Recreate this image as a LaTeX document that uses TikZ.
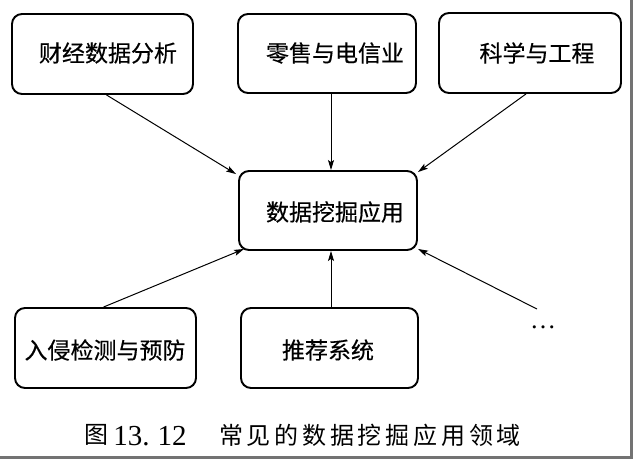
\documentclass[tikz,border=0pt]{standalone}
\usepackage{fontspec}
\setmainfont{Liberation Serif}
\newfontfamily\cjk{Noto Sans CJK SC}
\newfontfamily\cjkb[FakeBold=0.4]{Noto Sans CJK SC}
\usetikzlibrary{arrows.meta}
\newcommand\capgap{\hspace{3.8pt}}
\begin{document}
\begin{tikzpicture}[x=1pt,y=-1pt,
  box/.style={draw, line width=1.9pt, rounded corners=10pt, inner sep=0pt},
  lbl/.style={font=\cjkb\fontsize{23}{23}\selectfont, inner sep=0pt},
  arr/.style={-{Stealth[length=10pt,width=6pt,inset=2pt]}, line width=1pt}]
\useasboundingbox (0,0) rectangle (634,461);
% boxes
\node[box, minimum width=181pt, minimum height=80pt] (b1) at (102.5,54) {};
\node[box, minimum width=178pt, minimum height=79pt] (b2) at (327,53.5) {};
\node[box, minimum width=182pt, minimum height=80pt] (b3) at (530,53) {};
\node[box, minimum width=178pt, minimum height=79pt] (c)  at (328,210.5) {};
\node[box, minimum width=181pt, minimum height=80pt] (d1) at (105.5,348) {};
\node[box, minimum width=177pt, minimum height=80pt] (d2) at (329.5,348) {};
% labels
\node[lbl] (t1) at (108,53) {财经数据分析};
\node[lbl] (t2) at (335,53) {零售与电信业};
\node[lbl] (t3) at (537,53) {科学与工程};
\node[lbl] (tc) at (335,212) {数据挖掘应用};
\node[lbl] (td1) at (105,350) {入侵检测与预防};
\node[lbl] (td2) at (328,350) {推荐系统};
% dots
\node[inner sep=0pt, anchor=base, font=\fontsize{26}{26}\selectfont] (dots) at (543,328) {…};
\coordinate (e) at (537,309);
% arrows
\draw[arr] ([xshift=4pt]b1.south) -- ([xshift=-2pt,yshift=-4pt]c.north west);
\draw[arr] ([xshift=4pt]b2.south) -- ([xshift=3pt]c.north);
\draw[arr] ([xshift=-4pt]b3.south) -- ([yshift=-2pt]c.north east);
\draw[arr] ([xshift=-2pt]d1.north) -- ([xshift=6pt,yshift=2pt]c.south west);
\draw[arr] ([xshift=1.5pt]d2.north) -- ([xshift=3pt]c.south);
\draw[arr] (e) -- ([yshift=2pt]c.south east);
% caption
\node[inner sep=0pt, font=\cjk\fontsize{24}{24}\selectfont] (capa) at (96,435) {图};
\node[inner sep=0pt, anchor=base, font=\fontsize{29}{29}\selectfont] (capb) at (150,445) {13.\hspace{8pt}12};
\node[inner sep=0pt, font=\cjk\fontsize{24}{24}\selectfont] (capc) at (370,435)
  {常\capgap 见\capgap 的\capgap 数\capgap 据\capgap 挖\capgap 掘\capgap 应\capgap 用\capgap 领\capgap 域};
% frame shadow
\draw[black!55, line width=3pt] (631,0) -- (631,458);
\draw[black!55, line width=3pt] (0,457.5) -- (632.5,457.5);
\end{tikzpicture}
\end{document}
